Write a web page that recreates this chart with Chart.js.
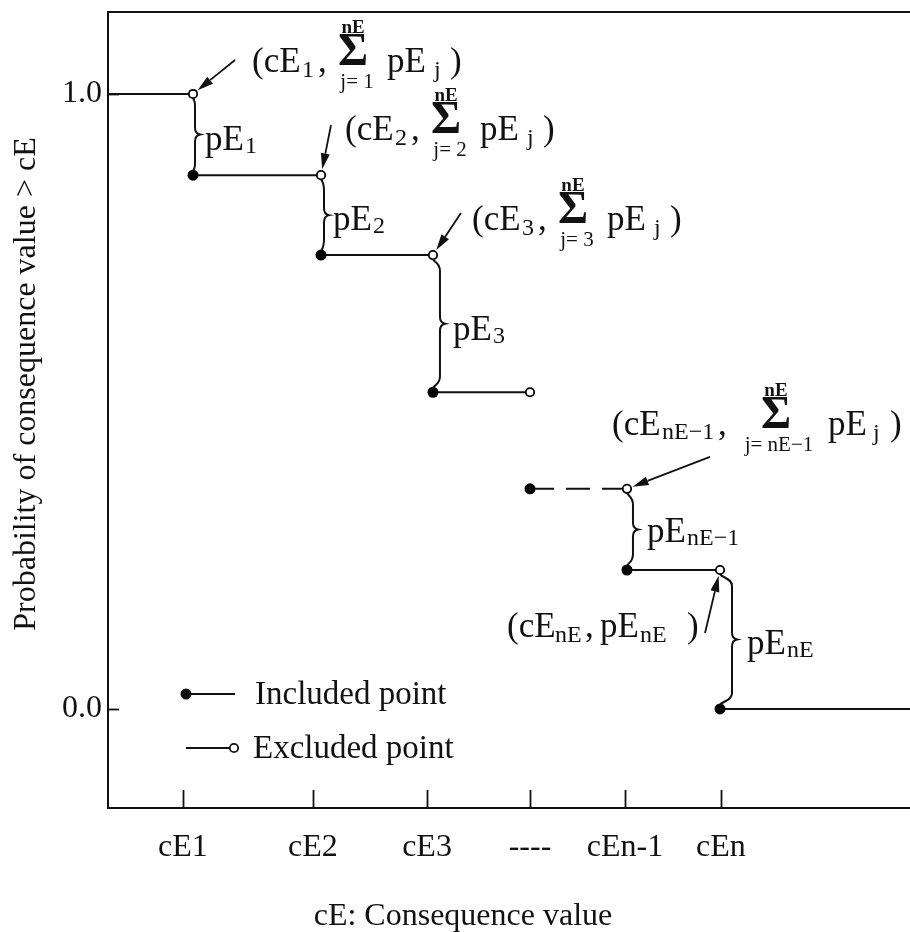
<!DOCTYPE html>
<html>
<head>
<meta charset="utf-8">
<script src="https://cdn.jsdelivr.net/npm/chart.js@4.4.0/dist/chart.umd.min.js"></script>
<style>
html, body { margin: 0; padding: 0; background: #fff; }
#wrap { width: 910px; height: 932px; position: relative; }
</style>
</head>
<body>
<div id="wrap"><canvas id="grafica"></canvas></div>
<script>
// values (x in arbitrary units 0..100, y = probability)
var tickPos = [9.35, 25.56, 39.78, 52.62, 64.46, 76.43];
var tickLabels = ['cE1', 'cE2', 'cE3', '----', 'cEn-1', 'cEn'];
var jumpX = [10.6, 26.56, 40.52, 52.62, 64.71, 76.31];
var levels = [1.0, 0.868, 0.738, 0.515, 0.358, 0.226, 0.0];
var yTicks = [0, 1];
var braceIdx = [0, 1, 2, 4, 5];
var braceSubs = ['1', '2', '3', 'nE\u22121', 'nE'];
var xTitle = 'cE: Consequence value';
var yTitle = 'Probability of consequence value > cE';
var legendTexts = ['Included point', 'Excluded point'];

var FONT = "'Liberation Serif', 'Times New Roman', serif";
var INK = '#111';
var XMIN = 0, XMAX = 100;

// ---- build datasets from the arrays ----
var datasets = [];
datasets.push({
    label: 'included',
    data: jumpX.map(function (x, i) { return { x: x, y: levels[i + 1] }; }),
    showLine: false,
    pointRadius: 5.5,
    pointBackgroundColor: '#000',
    pointBorderColor: '#000',
    pointBorderWidth: 0,
    order: 0
});
datasets.push({
    label: 'excluded',
    data: jumpX.map(function (x, i) { return { x: x, y: levels[i] }; }),
    showLine: false,
    pointRadius: 4.2,
    pointBackgroundColor: '#fff',
    pointBorderColor: '#000',
    pointBorderWidth: 1.8,
    order: 0
});
for (var k = 0; k < levels.length; k++) {
    var a = k === 0 ? XMIN : jumpX[k - 1];
    var b = k === levels.length - 1 ? XMAX : jumpX[k];
    datasets.push({
        label: 'seg' + k,
        data: [{ x: a, y: levels[k] }, { x: b, y: levels[k] }],
        borderColor: INK,
        borderWidth: 2,
        borderDash: k === 4 ? [24, 12] : [],
        pointRadius: 0,
        fill: false,
        order: 1
    });
}

// ---- layout of the hand drawn annotations (offsets from the open points) ----
var std = function (sub, bot) {
    return [
        ['(cE', 0, 0, 35], [sub, 50, 5, 24], [',', 66, 0, 35],
        ['\u03A3', 86, -7, 46, 'left', 'bold '], ['nE', 101, -39, 19, 'center', 'bold '], [bot, 105, 16, 21, 'center'],
        ['pE', 135, 0, 35], ['j', 182, 5, 24], [')', 198, 0, 35]
    ];
};
var annots = [
    { i: 0, ox: 59, oy: -22, ar: [42, -34], parts: std('1', 'j= 1') },
    { i: 1, ox: 24, oy: -35, ar: [10, -50], parts: std('2', 'j= 2') },
    { i: 2, ox: 39, oy: -25, ar: [28, -42], parts: std('3', 'j= 3') },
    { i: 4, ox: -15, oy: -54, ar: [83, -32], parts: [
        ['(cE', 0, 0, 35], ['nE\u22121', 50, 4, 24], [',', 106, 0, 35],
        ['\u03A3', 149, -7, 46, 'left', 'bold '], ['nE', 164, -39, 19, 'center', 'bold '], ['j= nE\u22121', 167, 16, 21, 'center'],
        ['pE', 216, 0, 35], ['j', 261, 5, 24], [')', 278, 0, 35]
    ] },
    { i: 5, ox: -213, oy: 67, ar: [-15, 63], parts: [
        ['(cE', 0, 0, 35], ['nE', 48, 5, 24], [',', 78, 0, 35],
        ['pE', 93, 0, 35], ['nE', 133, 5, 24], [')', 180, 0, 35]
    ] }
];
var braceDx = [2, 3, 7, 6, 12];
var labelDx = [12, 12, 20, 20, 27];
var labelDy = [15, 15, 16, 13, 15];

function txt(ctx, s, x, y, size, align, weight) {
    ctx.font = (weight || '') + size + 'px ' + FONT;
    ctx.textAlign = align || 'left';
    ctx.textBaseline = 'alphabetic';
    ctx.fillText(s, x, y);
}

function arrow(ctx, x1, y1, x2, y2) {
    var ang = Math.atan2(y2 - y1, x2 - x1);
    var hl = 16, hw = 4.5;
    var bx = x2 - Math.cos(ang) * hl, by = y2 - Math.sin(ang) * hl;
    ctx.beginPath();
    ctx.moveTo(x1, y1);
    ctx.lineTo(bx, by);
    ctx.lineWidth = 1.8;
    ctx.stroke();
    ctx.beginPath();
    ctx.moveTo(x2, y2);
    ctx.lineTo(bx + Math.sin(ang) * hw, by - Math.cos(ang) * hw);
    ctx.lineTo(bx - Math.sin(ang) * hw, by + Math.cos(ang) * hw);
    ctx.closePath();
    ctx.fill();
}

function brace(ctx, jx, x, y0, y1) {
    var ym = (y0 + y1) / 2;
    ctx.beginPath();
    ctx.moveTo(jx, y0 + 4);
    ctx.bezierCurveTo(jx + 2, y0 + 8, x, y0 + 8, x, y0 + 16);
    ctx.lineTo(x, ym - 7);
    ctx.quadraticCurveTo(x, ym - 1, x + 5, ym);
    ctx.quadraticCurveTo(x, ym + 1, x, ym + 7);
    ctx.lineTo(x, y1 - 16);
    ctx.bezierCurveTo(x, y1 - 8, jx + 2, y1 - 8, jx, y1 - 4);
    ctx.lineWidth = 2;
    ctx.stroke();
}

var decor = {
    id: 'decor',
    afterDraw: function (chart) {
        var ctx = chart.ctx;
        var xs = chart.scales.x, ys = chart.scales.y;
        var ca = chart.chartArea;
        ctx.save();
        ctx.strokeStyle = INK;
        ctx.fillStyle = INK;
        ctx.lineCap = 'butt';

        // top frame line
        ctx.lineWidth = 2;
        ctx.beginPath();
        ctx.moveTo(ca.left, ca.top);
        ctx.lineTo(ca.right, ca.top);
        ctx.stroke();

        // inward tick marks
        ctx.lineWidth = 1.8;
        tickPos.forEach(function (v) {
            var px = Math.round(xs.getPixelForValue(v)) + 0.5;
            ctx.beginPath();
            ctx.moveTo(px, ca.bottom);
            ctx.lineTo(px, ca.bottom - 18);
            ctx.stroke();
        });
        yTicks.forEach(function (v) {
            var py = Math.round(ys.getPixelForValue(v)) + 0.5;
            ctx.beginPath();
            ctx.moveTo(ca.left, py);
            ctx.lineTo(ca.left + 11, py);
            ctx.stroke();
        });

        // braces and pE labels
        braceIdx.forEach(function (i, n) {
            var jx = xs.getPixelForValue(jumpX[i]);
            var y0 = ys.getPixelForValue(levels[i]);
            var y1 = ys.getPixelForValue(levels[i + 1]);
            brace(ctx, jx, jx + braceDx[n], y0, y1);
            var lx = jx + labelDx[n], ly = (y0 + y1) / 2 + labelDy[n];
            txt(ctx, 'pE', lx, ly, 35);
            txt(ctx, braceSubs[n], lx + 40, ly + 3, 24);
        });

        // arrows and point annotations
        annots.forEach(function (an) {
            var ox = xs.getPixelForValue(jumpX[an.i]);
            var oy = ys.getPixelForValue(levels[an.i]);
            var sx = ox + an.ar[0], sy = oy + an.ar[1];
            var d = Math.sqrt(an.ar[0] * an.ar[0] + an.ar[1] * an.ar[1]);
            arrow(ctx, sx, sy, ox + an.ar[0] / d * 6, oy + an.ar[1] / d * 6);
            var bx = ox + an.ox, by = oy + an.oy;
            an.parts.forEach(function (p) {
                txt(ctx, p[0], bx + p[1], by + p[2], p[3], p[4], p[5]);
            });
        });

        // legend inside the plot
        var lx0 = ca.left + 78;
        var ly1 = ca.bottom - 114, ly2 = ca.bottom - 60;
        ctx.lineWidth = 2;
        ctx.beginPath();
        ctx.moveTo(lx0, ly1); ctx.lineTo(lx0 + 49, ly1);
        ctx.moveTo(lx0, ly2); ctx.lineTo(lx0 + 44, ly2);
        ctx.stroke();
        ctx.beginPath();
        ctx.arc(lx0, ly1, 5.5, 0, Math.PI * 2);
        ctx.fill();
        ctx.beginPath();
        ctx.arc(lx0 + 48, ly2, 4.2, 0, Math.PI * 2);
        ctx.fillStyle = '#fff';
        ctx.fill();
        ctx.lineWidth = 1.8;
        ctx.stroke();
        ctx.fillStyle = INK;
        txt(ctx, legendTexts[0], lx0 + 69, ly1 + 10, 33);
        txt(ctx, legendTexts[1], lx0 + 67, ly2 + 10, 33);

        // axis titles
        txt(ctx, xTitle, 463, 925, 32, 'center');
        ctx.translate(35, 384);
        ctx.rotate(-Math.PI / 2);
        txt(ctx, yTitle, 0, 0, 32, 'center');
        ctx.restore();
    }
};

var ctx = document.getElementById('grafica').getContext('2d');
var chart = new Chart(ctx, {
    type: 'line',
    data: { datasets: datasets },
    options: {
        responsive: true,
        maintainAspectRatio: false,
        animation: false,
        layout: { autoPadding: false, padding: { top: 12, right: 0, bottom: 0, left: 0 } },
        plugins: { legend: { display: false }, tooltip: { enabled: false } },
        scales: {
            x: {
                type: 'linear',
                min: XMIN,
                max: XMAX,
                afterBuildTicks: function (s) { s.ticks = tickPos.map(function (v) { return { value: v }; }); },
                afterFit: function (s) { s.height = 124; s.paddingLeft = 0; s.paddingRight = 0; },
                grid: { display: false, drawTicks: false },
                border: { display: true, color: INK, width: 2 },
                ticks: {
                    autoSkip: false,
                    maxRotation: 0,
                    padding: 20,
                    color: INK,
                    font: { family: FONT, size: 32 },
                    callback: function (v, i) { return tickLabels[i]; }
                }
            },
            y: {
                type: 'linear',
                min: -0.161,
                max: 1.1333,
                afterBuildTicks: function (s) { s.ticks = yTicks.map(function (v) { return { value: v }; }); },
                afterFit: function (s) { s.width = 108; s.paddingTop = 0; s.paddingBottom = 0; },
                grid: { display: false, drawTicks: false },
                border: { display: true, color: INK, width: 2 },
                ticks: {
                    padding: 6,
                    color: INK,
                    font: { family: FONT, size: 32 },
                    callback: function (v) { return v.toFixed(1); }
                }
            }
        }
    },
    plugins: [decor]
});
</script>
</body>
</html>
